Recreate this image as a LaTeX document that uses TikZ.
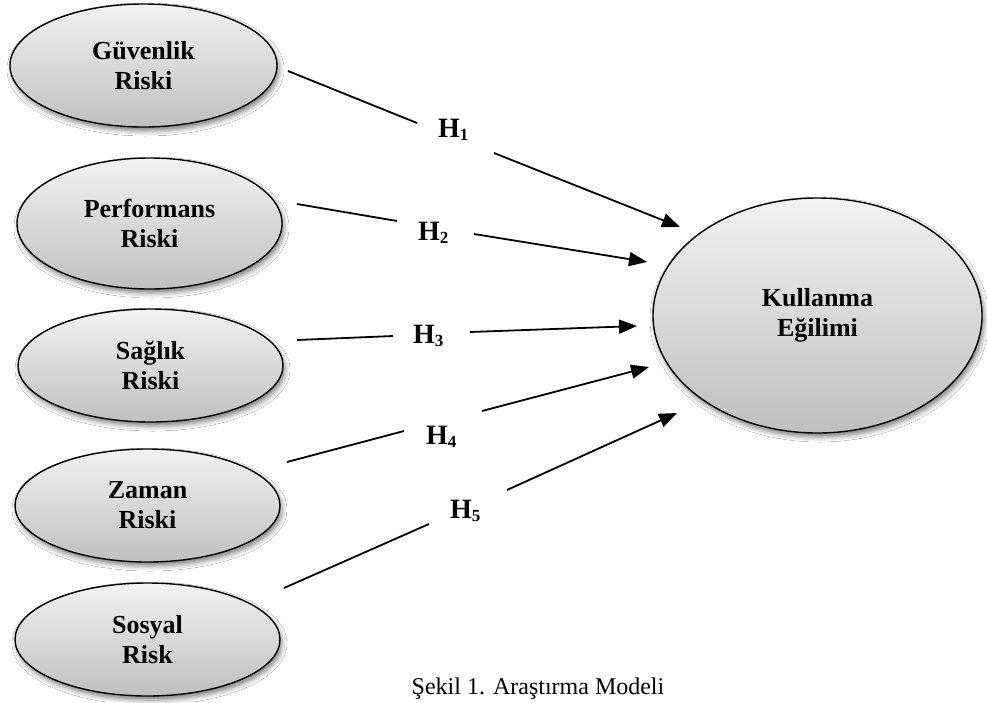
\documentclass[tikz,border=0pt]{standalone}
\usepackage{fontspec}
\setmainfont{Liberation Serif}
\usetikzlibrary{shapes.geometric,arrows.meta,shadows.blur}
\newcommand{\hsub}[1]{\raisebox{-3pt}{\fontsize{17}{17}\selectfont #1}}
\begin{document}
\begin{tikzpicture}[x=1pt,y=-1pt,
  risk/.style={ellipse, draw=black, line width=1.4pt, top color=black!5, bottom color=black!25,
    blur shadow={shadow xshift=2pt, shadow yshift=-4pt, shadow blur radius=5pt, shadow opacity=50},
    align=center, font=\fontsize{26}{30}\selectfont\bfseries, inner sep=0pt},
  hlab/.style={font=\fontsize{28}{30}\selectfont\bfseries, inner sep=0pt, anchor=base west},
  conn/.style={line width=1.8pt},
  arr/.style={conn, -{Triangle[length=18pt,width=14pt]}},
]
\useasboundingbox (0,0) rectangle (987,702);
\fill[white] (0,0) rectangle (987,702);

% source ellipses
\node[risk, minimum width=267pt, minimum height=123pt] (g) at (143.5,65.5) {Güvenlik\\Riski};
\node[risk, minimum width=265pt, minimum height=131pt] (p) at (149.5,223.5) {Performans\\Riski};
\node[risk, minimum width=265pt, minimum height=113pt] (s) at (150.5,365.5) {Sağlık\\Riski};
\node[risk, minimum width=265pt, minimum height=113pt] (z) at (147.5,505.5) {Zaman\\Riski};
\node[risk, minimum width=265pt, minimum height=113pt] (so) at (147.5,639.5) {Sosyal\\Risk};
% target ellipse
\node[risk, minimum width=329pt, minimum height=235pt] (k) at (817.5,315.5) {Kullanma\\Eğilimi};

% hypothesis labels
\node[hlab] (h1) at (438,137) {H\hsub{1}};
\node[hlab] (h2) at (418,240) {H\hsub{2}};
\node[hlab] (h3) at (413,343) {H\hsub{3}};
\node[hlab] (h4) at (426,444) {H\hsub{4}};
\node[hlab] (h5) at (450,518) {H\hsub{5}};

% connector end points
\coordinate (s1) at (288,71);  \coordinate (a1) at (417,123); \coordinate (b1) at (494,153); \coordinate (t1) at (680,227);
\coordinate (s2) at (297,204); \coordinate (a2) at (397,221); \coordinate (b2) at (474,234); \coordinate (t2) at (647,262);
\coordinate (s3) at (297,340); \coordinate (a3) at (393,336); \coordinate (b3) at (470,332); \coordinate (t3) at (637,326);
\coordinate (s4) at (287,462); \coordinate (a4) at (404,431); \coordinate (b4) at (482,411); \coordinate (t4) at (649,367);
\coordinate (s5) at (284,588); \coordinate (a5) at (429,524); \coordinate (b5) at (507,490); \coordinate (t5) at (677,413);

\draw[conn] (s1) -- (a1); \draw[arr] (b1) -- (t1);
\draw[conn] (s2) -- (a2); \draw[arr] (b2) -- (t2);
\draw[conn] (s3) -- (a3); \draw[arr] (b3) -- (t3);
\draw[conn] (s4) -- (a4); \draw[arr] (b4) -- (t4);
\draw[conn] (s5) -- (a5); \draw[arr] (b5) -- (t5);

% caption at the lower edge
\node[font=\fontsize{24}{28}\selectfont, anchor=base, inner sep=0pt] (cap) at (538,694) {Şekil 1. Araştırma Modeli};
\end{tikzpicture}
\end{document}
